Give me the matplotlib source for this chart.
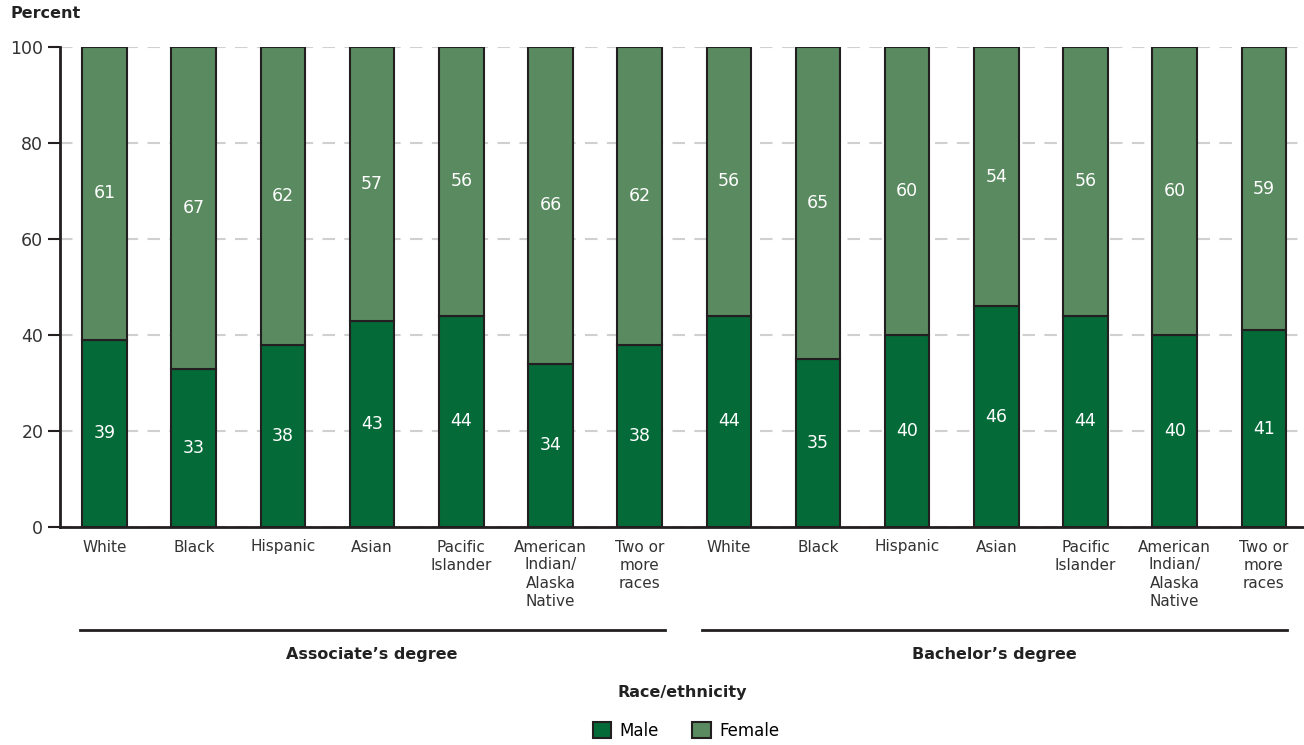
import matplotlib.pyplot as plt
import matplotlib.transforms as mtransforms
from matplotlib.patches import Patch

plt.rcParams['font.family'] = ['DejaVu Sans']

# Data
races = ['White', 'Black', 'Hispanic', 'Asian', 'Pacific\nIslander',
         'American\nIndian/\nAlaska\nNative', 'Two or\nmore\nraces']
degrees = ['Associate\u2019s degree', 'Bachelor\u2019s degree']
male = [39, 33, 38, 43, 44, 34, 38, 44, 35, 40, 46, 44, 40, 41]
female = [61, 67, 62, 57, 56, 66, 62, 56, 65, 60, 54, 56, 60, 59]

male_col = '#046a38'
female_col = '#5a8a5f'
edge_col = '#231f20'

fig = plt.figure(figsize=(13.04, 7.45), dpi=100)
ax = fig.add_axes([60 / 1304, 1 - 527 / 745, 1 - 60 / 1304, 480 / 745])

x = list(range(len(male)))
ax.bar(x, male, width=0.5, color=male_col, edgecolor=edge_col, linewidth=1.5, zorder=3)
ax.bar(x, female, width=0.5, bottom=male, color=female_col, edgecolor=edge_col,
       linewidth=1.5, zorder=3)

# value labels in the middle of each segment
for xi, m, f in zip(x, male, female):
    ax.text(xi, m / 2, str(m), ha='center', va='center', color='white', fontsize=12.5, zorder=4)
    ax.text(xi, m + f / 2, str(f), ha='center', va='center', color='white', fontsize=12.5, zorder=4)

ax.set_xlim(-0.5, 13.45)
ax.set_ylim(0, 100)
ax.set_yticks([0, 20, 40, 60, 80, 100])
ax.set_xticks(x)
ax.set_xticklabels(races * 2, fontsize=11, color='#333333', linespacing=1.25, va='top')
ax.tick_params(axis='x', length=0, pad=9)
ax.tick_params(axis='y', length=9, width=1.5, color=edge_col, labelsize=12.5, labelcolor='#333333', pad=3)

ax.grid(axis='y', linestyle=(0, (6, 4.5)), color='#d0d0d0', linewidth=1.5, zorder=0)
for s in ['top', 'right']:
    ax.spines[s].set_visible(False)
for s in ['left', 'bottom']:
    ax.spines[s].set_linewidth(2)
    ax.spines[s].set_color(edge_col)

ax.text(-50 / 1244, 1.055, 'Percent', transform=ax.transAxes, fontsize=11.5,
        fontweight='bold', color='#222222', ha='left', va='bottom')

# Group lines and labels
trans = mtransforms.blended_transform_factory(ax.transData, fig.transFigure)
groups = [(-0.28, 6.28), (6.70, 13.26)]
for (x0, x1), name in zip(groups, degrees):
    ax.plot([x0, x1], [1 - 630 / 745] * 2, transform=trans, color=edge_col,
            linewidth=2, clip_on=False)
    ax.text((x0 + x1) / 2, 1 - 655 / 745, name, transform=trans, ha='center',
            va='center', fontsize=11.5, fontweight='bold', color='#222222')

fig.text(682 / 1304, 1 - 692 / 745, 'Race/ethnicity', ha='center', va='center',
         fontsize=11.5, fontweight='bold', color='#222222')

handles = [Patch(facecolor=male_col, edgecolor=edge_col, linewidth=1.5, label='Male'),
           Patch(facecolor=female_col, edgecolor=edge_col, linewidth=1.5, label='Female')]
fig.legend(handles=handles, loc='center', bbox_to_anchor=(686 / 1304, 1 - 731 / 745),
           ncols=2, frameon=False, fontsize=12, handlelength=1.1, handleheight=1.1,
           columnspacing=2.0, handletextpad=0.5)

fig.savefig('out.png', dpi=100)
